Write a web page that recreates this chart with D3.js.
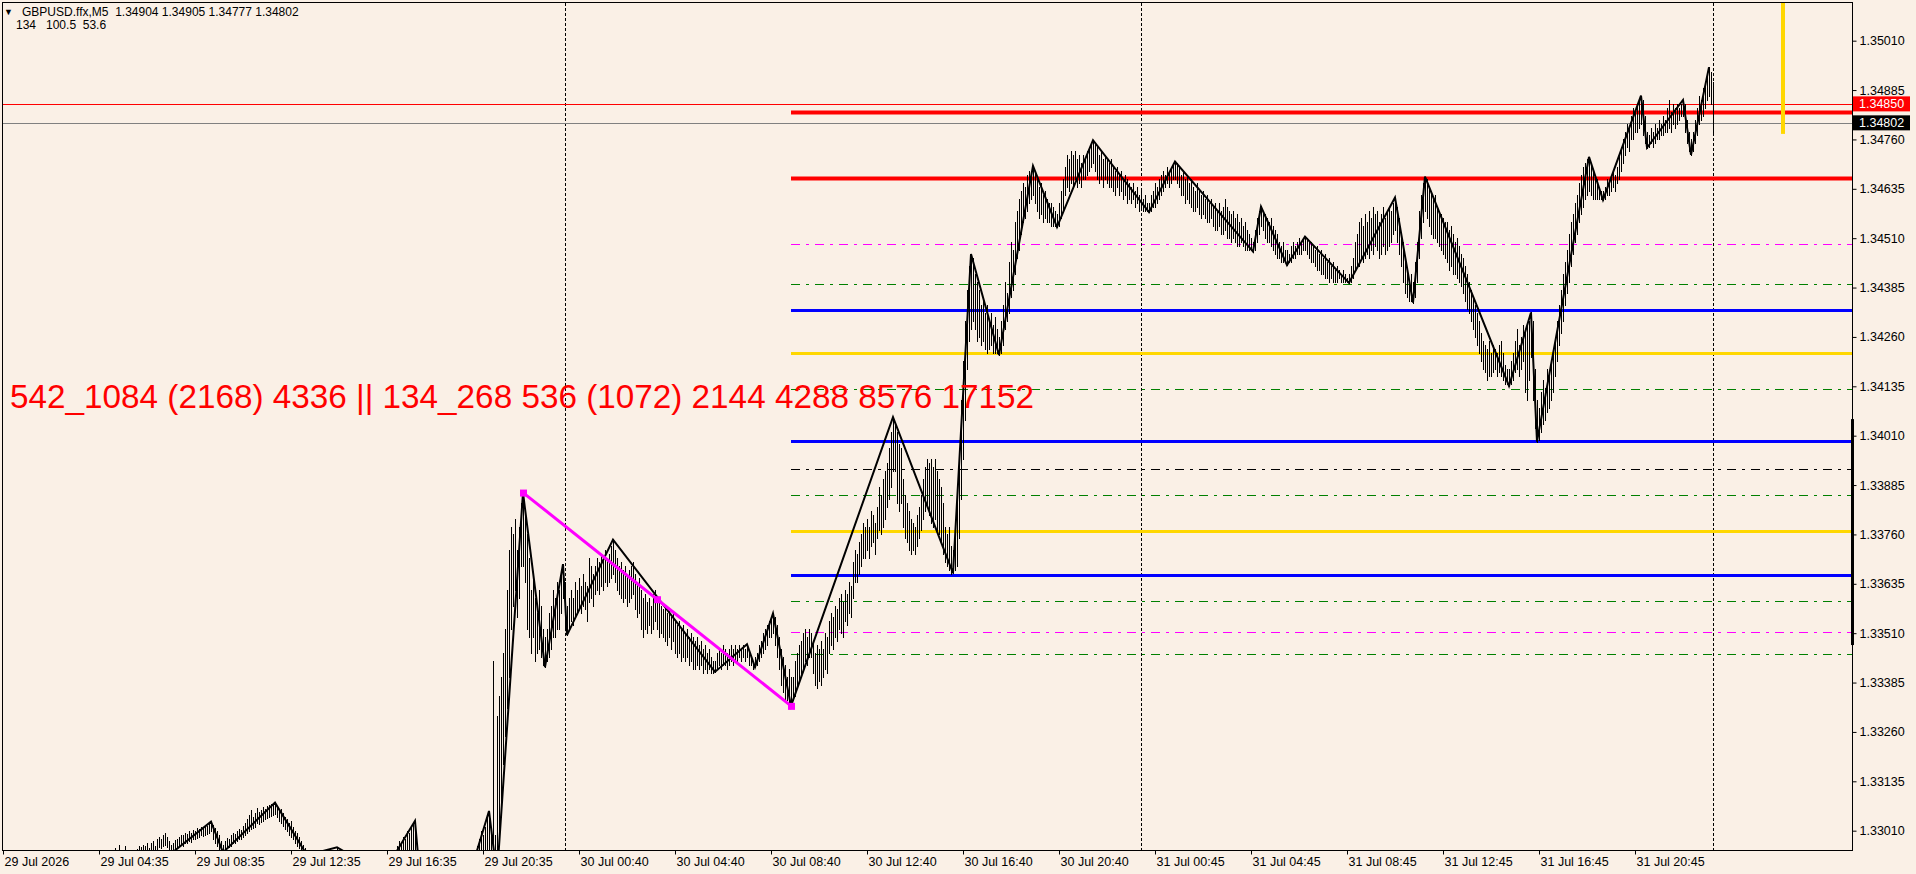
<!DOCTYPE html>
<html>
<head>
<meta charset="utf-8">
<script src="https://cdn.jsdelivr.net/npm/d3@7"></script>
<style>
  html, body { margin: 0; padding: 0; background: #FAF0E6; overflow: hidden; }
  svg { display: block; }
</style>
</head>
<body>
<svg id="chart"></svg>
<script>
// ---- data (GBPUSD M5) ----
const symbolLine = 'GBPUSD.ffx,M5  1.34904 1.34905 1.34777 1.34802';
const indicatorLine = '134   100.5  53.6';
const bigLabel = '542_1084 (2168) 4336 || 134_268 536 (1072) 2144 4288 8576 17152';

const timeLabels = ['29 Jul 2026', '29 Jul 04:35', '29 Jul 08:35', '29 Jul 12:35', '29 Jul 16:35', '29 Jul 20:35',
  '30 Jul 00:40', '30 Jul 04:40', '30 Jul 08:40', '30 Jul 12:40', '30 Jul 16:40', '30 Jul 20:40',
  '31 Jul 00:45', '31 Jul 04:45', '31 Jul 08:45', '31 Jul 12:45', '31 Jul 16:45', '31 Jul 20:45'];
const timeTickIdx = timeLabels.map((_, k) => k * 48);

const priceTicks = [1.33010, 1.33135, 1.33260, 1.33385, 1.33510, 1.33635, 1.33760, 1.33885, 1.34010,
  1.34135, 1.34260, 1.34385, 1.34510, 1.34635, 1.34760, 1.34885, 1.35010];

// bar segments (bar index start, highs, lows)
const startA = 56;
const highsA = [
  1.32966, 1.32958, 1.32974, 1.32955, 1.32960, 1.32970, 1.32958, 1.32955, 1.32950, 1.32957,
  1.32960, 1.32963, 1.32972, 1.32968, 1.32975, 1.32970, 1.32978, 1.32966, 1.32980, 1.32984,
  1.32972, 1.32988, 1.32995, 1.32990, 1.33000, 1.33005, 1.32994, 1.32985, 1.32975, 1.32980,
  1.32986, 1.32990, 1.32995, 1.33000, 1.32998, 1.33005, 1.33002, 1.33008, 1.33005, 1.33012,
  1.33010, 1.33016, 1.33014, 1.33020, 1.33018, 1.33024, 1.33022, 1.33028, 1.33033, 1.33025,
  1.33018, 1.33010, 1.33000, 1.32985, 1.32975, 1.32985, 1.32992, 1.32990, 1.32998, 1.33005,
  1.33002, 1.33010, 1.33015, 1.33012, 1.33022, 1.33030, 1.33040, 1.33050, 1.33062, 1.33045,
  1.33055, 1.33068, 1.33058, 1.33062, 1.33070, 1.33066, 1.33072, 1.33075, 1.33078, 1.33080,
  1.33081, 1.33070, 1.33060, 1.33065, 1.33055, 1.33045, 1.33040, 1.33030, 1.33035, 1.33020,
  1.33010, 1.33005, 1.32995, 1.32985, 1.32975, 1.32965, 1.32960];
const lowsA = [
  1.32940, 1.32938, 1.32945, 1.32935, 1.32940, 1.32948, 1.32940, 1.32936, 1.32932, 1.32938,
  1.32942, 1.32944, 1.32950, 1.32948, 1.32952, 1.32950, 1.32955, 1.32948, 1.32958, 1.32960,
  1.32952, 1.32962, 1.32968, 1.32965, 1.32972, 1.32975, 1.32968, 1.32960, 1.32952, 1.32955,
  1.32960, 1.32965, 1.32970, 1.32975, 1.32972, 1.32978, 1.32980, 1.32985, 1.32982, 1.32988,
  1.32990, 1.32992, 1.32995, 1.32998, 1.32996, 1.33000, 1.33002, 1.33005, 1.33008, 1.32990,
  1.32980, 1.32970, 1.32962, 1.32958, 1.32955, 1.32960, 1.32965, 1.32968, 1.32972, 1.32978,
  1.32980, 1.32985, 1.32988, 1.32990, 1.32995, 1.33000, 1.33005, 1.33010, 1.33015, 1.33018,
  1.33020, 1.33030, 1.33028, 1.33032, 1.33035, 1.33040, 1.33042, 1.33045, 1.33048, 1.33050,
  1.33052, 1.33045, 1.33035, 1.33030, 1.33022, 1.33015, 1.33008, 1.33000, 1.32995, 1.32988,
  1.32980, 1.32972, 1.32965, 1.32958, 1.32952, 1.32950, 1.32948];

const startB = 164;
const highsB = [1.32950, 1.32958, 1.32962, 1.32968, 1.32955, 1.32945];
const lowsB = [1.32925, 1.32930, 1.32935, 1.32940, 1.32930, 1.32920];

const startC = 194;
const highsC = [1.32920, 1.32940, 1.32960, 1.32972, 1.32985, 1.32980, 1.32995, 1.32990, 1.33010, 1.33005,
  1.33020, 1.33028, 1.33035, 1.32950, 1.32850];
const lowsC = [1.32850, 1.32870, 1.32880, 1.32895, 1.32905, 1.32915, 1.32920, 1.32925, 1.32935, 1.32945,
  1.32950, 1.32960, 1.32900, 1.32750, 1.32640];

const startD = 236;
const highsD = [
  1.3294, 1.3297, 1.3299, 1.3301, 1.3300, 1.3302, 1.3305, 1.3306, 1.3302, 1.3344,
  1.3300, 1.3330, 1.3335, 1.3340, 1.3346, 1.3352, 1.3362, 1.3372, 1.3378, 1.3376,
  1.3380, 1.3372, 1.3378, 1.3384, 1.33866, 1.3382, 1.3376, 1.3370, 1.3362, 1.3366,
  1.3360, 1.3356, 1.3362, 1.3358, 1.3352, 1.3350, 1.3352, 1.3356, 1.3358, 1.3362,
  1.3360, 1.3364, 1.3362, 1.3366, 1.33685, 1.3364, 1.3358, 1.3360, 1.3362, 1.3360,
  1.3364, 1.3362, 1.3365, 1.3363, 1.3366, 1.3364, 1.3363, 1.3370, 1.3368, 1.3366,
  1.3368, 1.3370, 1.3369, 1.3371, 1.3370, 1.3372, 1.3370, 1.3371, 1.3373, 1.33747,
  1.3372, 1.3370, 1.3368, 1.3369, 1.3367, 1.3368, 1.3366, 1.3367, 1.3368, 1.3369,
  1.3366, 1.3364, 1.3365, 1.3362, 1.3360, 1.3361, 1.3359, 1.3360, 1.3358, 1.3361,
  1.3362, 1.3360, 1.3359, 1.3358, 1.3357, 1.3358, 1.3356, 1.3357, 1.3355, 1.3356,
  1.3354, 1.3353, 1.3354, 1.3352, 1.3353, 1.3351, 1.3352, 1.3350, 1.3351, 1.3350,
  1.3349, 1.3350, 1.3348, 1.3349, 1.3347, 1.3348, 1.3346, 1.3347, 1.3345, 1.3344,
  1.3344, 1.3346, 1.3347, 1.3346, 1.3348, 1.3347, 1.3346, 1.3347, 1.3348, 1.3347,
  1.3348, 1.3347, 1.3348, 1.3347, 1.3348, 1.3347, 1.33482, 1.3346, 1.3345, 1.3344,
  1.3345, 1.3346, 1.3348, 1.3349, 1.3351, 1.3352, 1.3353, 1.3354, 1.3355, 1.33560,
  1.3355, 1.3353, 1.3350, 1.3347, 1.3345, 1.3343, 1.3340, 1.3342, 1.3340, 1.3340,
  1.3344, 1.3346, 1.3348, 1.3349, 1.3351, 1.3352, 1.3350, 1.3352, 1.3351, 1.3349,
  1.3346, 1.3348, 1.3347, 1.3349, 1.3347, 1.3351, 1.3350, 1.3354, 1.3356, 1.3355,
  1.3358, 1.3357, 1.3360, 1.3361, 1.3359, 1.3362, 1.3361, 1.3364, 1.3363, 1.3369,
  1.3372, 1.3371, 1.3374, 1.3376, 1.3379, 1.3378, 1.3380, 1.3378, 1.3382, 1.3381,
  1.3379, 1.3383, 1.3388, 1.3386, 1.3390, 1.3392, 1.3394, 1.3398, 1.3402, 1.34057,
  1.3404, 1.3402, 1.3399, 1.3398, 1.3390, 1.3386, 1.3384, 1.3382, 1.3380, 1.3379,
  1.3378, 1.3381, 1.3383, 1.3386, 1.3390, 1.3393, 1.3395, 1.3394, 1.3395, 1.3393,
  1.3395, 1.3392, 1.3390, 1.3388, 1.3384, 1.3378, 1.3376, 1.3378, 1.3373, 1.3372,
  1.3378, 1.3385, 1.3395, 1.3410, 1.3420, 1.3430, 1.3438, 1.3444, 1.34470, 1.3446,
  1.3442, 1.3440, 1.3438, 1.3434, 1.3436, 1.3432, 1.3434, 1.3430, 1.3432, 1.3429,
  1.3431, 1.3428, 1.3426, 1.3430, 1.3434, 1.3440, 1.3437, 1.3445, 1.3450, 1.3448,
  1.3455, 1.3458, 1.3461, 1.3463, 1.3465, 1.3464, 1.3467, 1.3468, 1.3468, 1.34693,
  1.3468, 1.3466, 1.3464, 1.3465, 1.3462, 1.3463, 1.3461, 1.3460, 1.3460, 1.3459,
  1.3458, 1.3457, 1.3460, 1.3463, 1.3466, 1.3469, 1.3472, 1.3471, 1.3473, 1.3472,
  1.3473, 1.3471, 1.3472, 1.3470, 1.3472, 1.3471, 1.3473, 1.3474, 1.3475, 1.34758,
  1.3475, 1.3474, 1.3472, 1.3473, 1.3471, 1.3472, 1.3471, 1.3470, 1.3471, 1.3469,
  1.3468, 1.3469, 1.3467, 1.3468, 1.3466, 1.3467, 1.3466, 1.3465, 1.3464, 1.3465,
  1.3463, 1.3464, 1.3462, 1.3463, 1.3461, 1.3462, 1.3460, 1.3460, 1.3462, 1.3463,
  1.3465, 1.3464, 1.3466, 1.3467, 1.3468, 1.3467, 1.3469, 1.3468, 1.3469, 1.3470,
  1.34704, 1.3470, 1.3469, 1.3467, 1.3468, 1.3466, 1.3467, 1.3465, 1.3466, 1.3464,
  1.3463, 1.3465, 1.3463, 1.3462, 1.3463, 1.3461, 1.3462, 1.3460, 1.3461, 1.3459,
  1.3460, 1.3458, 1.3460, 1.3458, 1.3459, 1.3461, 1.3459, 1.3458, 1.3457, 1.3458,
  1.3456, 1.3457, 1.3455, 1.3456, 1.3454, 1.3455, 1.3453, 1.3452, 1.3451, 1.3450,
  1.3453, 1.3456, 1.3458, 1.34590, 1.3458, 1.3457, 1.3456, 1.3455, 1.3456, 1.3454,
  1.3453, 1.3452, 1.3450, 1.3449, 1.3450, 1.3448, 1.3448, 1.3447, 1.3449, 1.3450,
  1.3449, 1.3450, 1.3451, 1.3450, 1.3451, 1.34514, 1.3451, 1.3450, 1.3450, 1.3449,
  1.3448, 1.3449, 1.3447, 1.3448, 1.3446, 1.3447, 1.3445, 1.3446, 1.3444, 1.3445,
  1.3443, 1.3444, 1.3443, 1.3442, 1.3443, 1.3442, 1.3441, 1.3442, 1.3444, 1.3446,
  1.3450, 1.3452, 1.3455, 1.3456, 1.3454, 1.3457, 1.3455, 1.3458, 1.3456, 1.3459,
  1.3457, 1.3458, 1.3455, 1.3457, 1.3459, 1.3456, 1.3458, 1.3459, 1.3458, 1.3460,
  1.34613, 1.3459, 1.3456, 1.3452, 1.3450, 1.3446, 1.3443, 1.3440, 1.3442, 1.3440,
  1.3445, 1.3450, 1.3458, 1.3462, 1.3465, 1.34666, 1.3466, 1.3464, 1.3463, 1.3461,
  1.3462, 1.3459, 1.3458, 1.3457, 1.3456, 1.3455, 1.3455, 1.3453, 1.3454, 1.3452,
  1.3450, 1.3451, 1.3449, 1.3447, 1.3446, 1.3444, 1.3442, 1.3440, 1.3438, 1.3436,
  1.3434, 1.3432, 1.3430, 1.3427, 1.3425, 1.3424, 1.3423, 1.3425, 1.3422, 1.3424,
  1.3423, 1.3422, 1.3424, 1.3425, 1.3422, 1.3419, 1.3418, 1.3418, 1.3420, 1.3422,
  1.3425, 1.3428, 1.3424, 1.3426, 1.3429, 1.3427, 1.3429, 1.3430, 1.34322, 1.3430,
  1.3418, 1.3410, 1.3408, 1.3412, 1.3415, 1.3413, 1.3418, 1.3416, 1.3420, 1.3422,
  1.3426, 1.3430, 1.3434, 1.3438, 1.3442, 1.3445, 1.3448, 1.3452, 1.3455, 1.3457,
  1.3460, 1.3462, 1.3465, 1.3467, 1.3469, 1.3470, 1.3471, 1.34716, 1.3470, 1.3468,
  1.3467, 1.3466, 1.3464, 1.3463, 1.3463, 1.3464, 1.3466, 1.3465, 1.3467, 1.3468,
  1.3467, 1.3469, 1.3472, 1.3474, 1.3476, 1.3478, 1.3480, 1.3479, 1.3482, 1.3484,
  1.3483, 1.3485, 1.3486, 1.34871, 1.3486, 1.3482, 1.3478, 1.3477, 1.3479, 1.3478,
  1.3480, 1.3479, 1.3481, 1.3480, 1.3482, 1.3481, 1.3484, 1.3486, 1.3483, 1.3485,
  1.3484, 1.3485, 1.3484, 1.3485, 1.34860, 1.3485, 1.3481, 1.3478, 1.3476, 1.3478,
  1.3481, 1.3484, 1.3487, 1.3486, 1.3489, 1.3490, 1.3492, 1.34943, 1.3493, 1.34905];
const lowsD = [
  1.3285, 1.3288, 1.3289, 1.3291, 1.3292, 1.3293, 1.3295, 1.3296, 1.3292, 1.3290,
  1.3291, 1.32895, 1.3298, 1.3305, 1.3318, 1.3325, 1.3332, 1.3340, 1.3352, 1.3358,
  1.3362, 1.3355, 1.3360, 1.3368, 1.3368, 1.3364, 1.3352, 1.3350, 1.3346, 1.3350,
  1.3344, 1.3346, 1.3347, 1.3345, 1.3343, 1.33424, 1.3344, 1.3345, 1.3347, 1.3350,
  1.3350, 1.3352, 1.3352, 1.3356, 1.3360, 1.3352, 1.33505, 1.3352, 1.3354, 1.3353,
  1.3355, 1.3356, 1.3357, 1.3356, 1.3358, 1.3357, 1.3354, 1.3359, 1.3360, 1.3358,
  1.3361, 1.3362, 1.3361, 1.3363, 1.3362, 1.3364, 1.3363, 1.3364, 1.3365, 1.3366,
  1.3364, 1.3362, 1.3361, 1.3360, 1.3359, 1.3360, 1.3358, 1.3359, 1.3360, 1.3361,
  1.3357, 1.3355, 1.3356, 1.3352, 1.3350, 1.3352, 1.3351, 1.3353, 1.3351, 1.3352,
  1.3354, 1.3352, 1.3350, 1.3351, 1.3350, 1.3349, 1.3348, 1.3350, 1.3347, 1.3349,
  1.3346, 1.3345, 1.3346, 1.3344, 1.3345, 1.3344, 1.3345, 1.3343, 1.3344, 1.3342,
  1.3342, 1.3343, 1.3342, 1.3343, 1.3341, 1.3342, 1.3341, 1.3342, 1.3341, 1.3341,
  1.33412, 1.3342, 1.3343, 1.3342, 1.3343, 1.3343, 1.3342, 1.3343, 1.3344, 1.3343,
  1.3344, 1.3344, 1.3345, 1.3344, 1.3345, 1.3344, 1.3345, 1.3343, 1.3343, 1.3342,
  1.33424, 1.3343, 1.3344, 1.3345, 1.3346, 1.3347, 1.3348, 1.3350, 1.3350, 1.3351,
  1.3348, 1.3345, 1.3342, 1.3338, 1.3336, 1.3334, 1.3334, 1.3333, 1.33326, 1.3334,
  1.3335, 1.3338, 1.3339, 1.3341, 1.3342, 1.3344, 1.3343, 1.3345, 1.3345, 1.3341,
  1.3338, 1.3337, 1.3339, 1.3338, 1.3340, 1.3342, 1.3341, 1.3346, 1.3348, 1.3347,
  1.3350, 1.3349, 1.3352, 1.3351, 1.3350, 1.3354, 1.3353, 1.3356, 1.3355, 1.3360,
  1.3364, 1.3364, 1.3366, 1.3368, 1.3370, 1.3370, 1.3372, 1.3370, 1.3373, 1.3374,
  1.3371, 1.3375, 1.3377, 1.3376, 1.3378, 1.3380, 1.3383, 1.3385, 1.3388, 1.3392,
  1.3392, 1.3384, 1.3382, 1.3384, 1.3378, 1.3375, 1.3374, 1.3372, 1.3371, 1.3372,
  1.3371, 1.3373, 1.3375, 1.3377, 1.3380, 1.3382, 1.3383, 1.3381, 1.3379, 1.3378,
  1.3380, 1.3377, 1.3376, 1.3374, 1.3371, 1.3369, 1.3368, 1.3367, 1.3366, 1.33662,
  1.3367, 1.3368, 1.3375, 1.3385, 1.3395, 1.3405, 1.3418, 1.3425, 1.3428, 1.3430,
  1.3428, 1.3425, 1.3426, 1.3424, 1.3425, 1.3423, 1.3422, 1.3423, 1.3424, 1.3422,
  1.3422, 1.3422, 1.34214, 1.3422, 1.3424, 1.3428, 1.3430, 1.3432, 1.3436, 1.3438,
  1.3442, 1.3446, 1.3448, 1.3452, 1.3455, 1.3456, 1.3458, 1.3460, 1.3461, 1.3462,
  1.3460, 1.3458, 1.3456, 1.3457, 1.3455, 1.3456, 1.3455, 1.3455, 1.3454, 1.3454,
  1.3454, 1.34538, 1.3454, 1.3456, 1.3458, 1.3462, 1.3464, 1.3463, 1.3465, 1.3464,
  1.3466, 1.3464, 1.3465, 1.3464, 1.3466, 1.3466, 1.3467, 1.3468, 1.3469, 1.3470,
  1.3468, 1.3466, 1.3465, 1.3466, 1.3464, 1.3466, 1.3465, 1.3464, 1.3464, 1.3463,
  1.3462, 1.3464, 1.3462, 1.3463, 1.3461, 1.3462, 1.3460, 1.3461, 1.3460, 1.3461,
  1.3459, 1.3460, 1.3458, 1.3459, 1.3458, 1.3458, 1.3458, 1.34576, 1.3458, 1.3459,
  1.3459, 1.3460, 1.3461, 1.3462, 1.3463, 1.3464, 1.3465, 1.3464, 1.3465, 1.3466,
  1.3466, 1.3465, 1.3464, 1.3462, 1.3462, 1.3460, 1.3461, 1.3460, 1.3459, 1.3458,
  1.3458, 1.3459, 1.3457, 1.3456, 1.3457, 1.3456, 1.3455, 1.3455, 1.3456, 1.3454,
  1.3453, 1.3453, 1.3454, 1.3452, 1.3452, 1.3453, 1.3451, 1.3451, 1.3450, 1.3451,
  1.3450, 1.3449, 1.3449, 1.3450, 1.3449, 1.3448, 1.3448, 1.3448, 1.3448, 1.34476,
  1.3448, 1.3450, 1.3452, 1.3454, 1.3453, 1.3451, 1.3450, 1.3450, 1.3449, 1.3448,
  1.3447, 1.3446, 1.3446, 1.3445, 1.3445, 1.3445, 1.34442, 1.3445, 1.3445, 1.3446,
  1.3446, 1.3447, 1.3447, 1.3447, 1.3448, 1.3448, 1.3447, 1.3446, 1.3445, 1.3445,
  1.3444, 1.3443, 1.3443, 1.3442, 1.3442, 1.3441, 1.3441, 1.3440, 1.3441, 1.3440,
  1.3440, 1.3440, 1.3441, 1.3440, 1.3440, 1.3440, 1.3440, 1.34397, 1.3440, 1.3441,
  1.3443, 1.3444, 1.3444, 1.3446, 1.3445, 1.3446, 1.3447, 1.3446, 1.3448, 1.3447,
  1.3449, 1.3448, 1.3446, 1.3447, 1.3449, 1.3447, 1.3448, 1.3449, 1.3450, 1.3452,
  1.3453, 1.3450, 1.3447, 1.3444, 1.3440, 1.3437, 1.3436, 1.3435, 1.3435, 1.34347,
  1.3436, 1.3440, 1.3446, 1.3451, 1.3455, 1.3458, 1.3456, 1.3454, 1.3452, 1.3451,
  1.3451, 1.3450, 1.3449, 1.3448, 1.3447, 1.3446, 1.3445, 1.3443, 1.3444, 1.3442,
  1.3442, 1.3441, 1.3440, 1.3439, 1.3437, 1.3435, 1.3433, 1.3432, 1.3430, 1.3428,
  1.3426, 1.3424, 1.3422, 1.3420, 1.3418, 1.3417, 1.3415, 1.3416, 1.3416, 1.3417,
  1.3418, 1.3416, 1.3417, 1.3416, 1.3415, 1.3414, 1.3414, 1.34136, 1.3414, 1.3415,
  1.3417, 1.3418, 1.3416, 1.3418, 1.3420, 1.3412, 1.3410, 1.3415, 1.3421, 1.3410,
  1.3403, 1.33995, 1.3400, 1.3402, 1.3404, 1.3405, 1.3407, 1.3408, 1.3410, 1.3412,
  1.3416, 1.3420, 1.3424, 1.3427, 1.3430, 1.3434, 1.3437, 1.3440, 1.3444, 1.3447,
  1.3450, 1.3452, 1.3455, 1.3457, 1.3459, 1.3461, 1.3462, 1.3463, 1.3462, 1.3461,
  1.3461, 1.3461, 1.3461, 1.3461, 1.34607, 1.3461, 1.3462, 1.3462, 1.3463, 1.3464,
  1.3463, 1.3465, 1.3466, 1.3468, 1.3470, 1.3472, 1.3474, 1.3473, 1.3476, 1.3476,
  1.3478, 1.3478, 1.3479, 1.3480, 1.3477, 1.3475, 1.34739, 1.3474, 1.3475, 1.3474,
  1.3475, 1.3476, 1.3476, 1.3477, 1.3477, 1.3478, 1.3478, 1.3479, 1.3478, 1.3480,
  1.3479, 1.3480, 1.3481, 1.3482, 1.3482, 1.3478, 1.3475, 1.3473, 1.34721, 1.3473,
  1.3475, 1.3477, 1.3480, 1.3481, 1.3482, 1.3484, 1.3486, 1.3487, 1.3485, 1.34777];

// zigzag swing points (bar index, price)
const zzIdx = [84, 104, 110, 136, 152, 167, 190, 206, 214, 243, 247, 260, 271, 280, 282, 305, 356, 372, 376, 385,
  394, 445, 475, 484, 498, 515, 527, 545, 573, 586, 625, 629, 642, 651, 673, 696, 705, 711, 753, 764,
  767, 793, 800, 819, 822, 840, 844, 853];
const zzPrice = [1.32952, 1.33033, 1.32955, 1.33081, 1.32948, 1.32968, 1.32900, 1.33035, 1.32574, 1.33060,
  1.32895, 1.33866, 1.33424, 1.33685, 1.33505, 1.33747, 1.33412, 1.33482, 1.33424, 1.33560,
  1.33326, 1.34057, 1.33662, 1.34470, 1.34214, 1.34693, 1.34538, 1.34758, 1.34576, 1.34704,
  1.34476, 1.34590, 1.34442, 1.34514, 1.34397, 1.34613, 1.34347, 1.34666, 1.34136, 1.34322,
  1.33995, 1.34716, 1.34607, 1.34871, 1.34739, 1.34860, 1.34721, 1.34943];

// magenta trend line
const trendIdx = [260, 327, 394];
const trendPrice = [1.33866, 1.33596, 1.33326];

// horizontal levels drawn from the swing low to the right edge
const levelStartIdx = 394;
const levelPrices = [1.34830, 1.34663, 1.34495, 1.34393, 1.34329, 1.34219, 1.34128, 1.33996,
  1.33926, 1.33859, 1.33769, 1.33658, 1.33591, 1.33514, 1.33457];
const levelColors = ['#FF0000', '#FF0000', '#FF00FF', '#008000', '#0000FF', '#FFD700', '#008000', '#0000FF',
  '#000000', '#008000', '#FFD700', '#0000FF', '#008000', '#FF00FF', '#008000'];
const levelStyles = ['thick', 'thick', 'dashdot', 'dashdot', 'solid', 'solid', 'dashdot', 'solid',
  'dashdot', 'dashdot', 'solid', 'solid', 'dashdot', 'dashdot', 'dashdot'];

const daySeparatorIdx = [281, 569, 855];
const alertPrice = 1.34850;
const bidPrice = 1.34802;
const markerIdx = 890;
const markerLowPrice = 1.34774;
const rangeBarPrices = [1.33480, 1.34052];

// ---- drawing ----
const W = 1916, H = 874;
const plot = { left: 3, top: 3, right: 1852, bottom: 850 };
const FONT = '"Liberation Sans", Arial, sans-serif';

const svg = d3.select('#chart').attr('width', W).attr('height', H);
svg.append('rect').attr('width', W).attr('height', H).attr('fill', '#FAF0E6');

const x = d3.scaleLinear().domain([0, 924.5]).range([plot.left, plot.right]);
const y = d3.scaleLinear().domain([1.329611, 1.351054]).range([plot.bottom, plot.top]);

svg.append('clipPath').attr('id', 'plotClip')
  .append('rect')
  .attr('x', plot.left).attr('y', plot.top)
  .attr('width', plot.right - plot.left).attr('height', plot.bottom - plot.top);

const g = svg.append('g').attr('clip-path', 'url(#plotClip)');

// day separators
g.selectAll('.sep')
  .data(daySeparatorIdx)
  .enter().append('line')
  .attr('x1', d => Math.round(x(d)) + 0.5).attr('x2', d => Math.round(x(d)) + 0.5)
  .attr('y1', plot.top).attr('y2', plot.bottom)
  .attr('stroke', '#000').attr('stroke-width', 1)
  .attr('stroke-dasharray', '3,2');

// full width price lines
g.append('line')
  .attr('x1', plot.left).attr('x2', plot.right)
  .attr('y1', Math.round(y(alertPrice)) + 0.5).attr('y2', Math.round(y(alertPrice)) + 0.5)
  .attr('stroke', '#FF0000').attr('stroke-width', 1);
g.append('line')
  .attr('x1', plot.left).attr('x2', plot.right)
  .attr('y1', Math.round(y(bidPrice)) + 0.5).attr('y2', Math.round(y(bidPrice)) + 0.5)
  .attr('stroke', '#808080').attr('stroke-width', 1);

// levels
const levels = levelPrices.map((p, k) => ({ p, color: levelColors[k], style: levelStyles[k] }));
g.selectAll('.level')
  .data(levels)
  .enter().append('line')
  .attr('class', 'level')
  .attr('x1', x(levelStartIdx)).attr('x2', plot.right)
  .attr('y1', d => Math.round(y(d.p)) + 0.5).attr('y2', d => Math.round(y(d.p)) + 0.5)
  .attr('stroke', d => d.color)
  .attr('stroke-width', d => d.style === 'thick' ? 4 : d.style === 'solid' ? 3 : 1)
  .attr('stroke-dasharray', d => d.style === 'dashdot' ? '9,6,3,6' : null);

// bars
const bars = [];
[[startA, highsA, lowsA], [startB, highsB, lowsB], [startC, highsC, lowsC], [startD, highsD, lowsD]]
  .forEach(([s, hs, ls]) => hs.forEach((h, k) => bars.push({ i: s + k, h, l: ls[k] })));

g.selectAll('.bar')
  .data(bars)
  .enter().append('line')
  .attr('class', 'bar')
  .attr('x1', d => Math.round(x(d.i)) + 0.5).attr('x2', d => Math.round(x(d.i)) + 0.5)
  .attr('y1', d => y(d.h)).attr('y2', d => y(d.l) + 1)
  .attr('stroke', '#000').attr('stroke-width', 1)
  .attr('shape-rendering', 'crispEdges');

// zigzag
const zz = zzIdx.map((i, k) => ({ i, p: zzPrice[k] }));
const line = d3.line().x(d => x(d.i)).y(d => y(d.p));
g.append('path')
  .datum(zz)
  .attr('fill', 'none')
  .attr('stroke', '#000')
  .attr('stroke-width', 2)
  .attr('d', line);

// magenta trend line with square handles
const trend = trendIdx.map((i, k) => ({ i, p: trendPrice[k] }));
g.append('path')
  .datum(trend)
  .attr('fill', 'none')
  .attr('stroke', '#FF00FF')
  .attr('stroke-width', 3)
  .attr('d', line);
g.selectAll('.handle')
  .data(trend)
  .enter().append('rect')
  .attr('x', d => x(d.i) - 3).attr('y', d => y(d.p) - 3)
  .attr('width', 7).attr('height', 7)
  .attr('fill', '#FF00FF');

// yellow vertical marker
g.append('line')
  .attr('x1', x(markerIdx)).attr('x2', x(markerIdx))
  .attr('y1', plot.top).attr('y2', y(markerLowPrice))
  .attr('stroke', '#FFD700').attr('stroke-width', 4);

// big red text
g.append('text')
  .attr('x', 10).attr('y', 408)
  .attr('font-family', FONT)
  .attr('font-size', 34)
  .attr('fill', '#FF0000')
  .attr('textLength', 1024)
  .attr('lengthAdjust', 'spacingAndGlyphs')
  .text(bigLabel);

// frame
svg.append('rect')
  .attr('x', plot.left - 0.5).attr('y', plot.top - 0.5)
  .attr('width', plot.right - plot.left + 1).attr('height', plot.bottom - plot.top + 1)
  .attr('fill', 'none').attr('stroke', '#000').attr('stroke-width', 1);

// price axis
const yAxis = d3.axisRight(y)
  .tickValues(priceTicks)
  .tickFormat(d3.format('.5f'))
  .tickSize(4)
  .tickPadding(3);
const ya = svg.append('g')
  .attr('transform', `translate(${plot.right + 0.5},0)`)
  .call(yAxis);
ya.select('.domain').remove();
ya.selectAll('text').attr('font-family', FONT).attr('font-size', 12.5).attr('fill', '#000');
ya.selectAll('line').attr('stroke', '#000');

// range bar on price axis
svg.append('rect')
  .attr('x', plot.right - 1).attr('width', 3)
  .attr('y', y(rangeBarPrices[1])).attr('height', y(rangeBarPrices[0]) - y(rangeBarPrices[1]))
  .attr('fill', '#000');

// price tags
[[alertPrice, '#FF0000'], [bidPrice, '#000000']].forEach(([p, c]) => {
  const cy = y(p);
  svg.append('rect')
    .attr('x', plot.right + 1).attr('y', cy - 7.5)
    .attr('width', 57).attr('height', 15)
    .attr('fill', c);
  svg.append('text')
    .attr('x', plot.right + 7).attr('y', cy + 4.5)
    .attr('font-family', FONT).attr('font-size', 12.5)
    .attr('fill', '#fff')
    .text(d3.format('.5f')(p));
});

// time axis
const xAxis = d3.axisBottom(x)
  .tickValues(timeTickIdx)
  .tickFormat((d, k) => timeLabels[k])
  .tickSize(4)
  .tickPadding(3);
const xa = svg.append('g')
  .attr('transform', `translate(0,${plot.bottom + 0.5})`)
  .call(xAxis);
xa.select('.domain').remove();
xa.selectAll('.tick').attr('transform', d => `translate(${Math.round(x(d)) + 0.5},0)`);
xa.selectAll('text')
  .attr('font-family', FONT).attr('font-size', 12.5).attr('fill', '#000')
  .attr('text-anchor', 'start').attr('x', 1);
xa.selectAll('line').attr('stroke', '#000');

// header
svg.append('text')
  .attr('x', 4).attr('y', 15)
  .attr('font-family', FONT).attr('font-size', 9).attr('fill', '#000')
  .text('\u25BC');
svg.append('text')
  .attr('x', 22).attr('y', 16)
  .attr('font-family', FONT).attr('font-size', 12)
  .attr('fill', '#000')
  .style('white-space', 'pre')
  .text(symbolLine);
svg.append('text')
  .attr('x', 16).attr('y', 29)
  .attr('font-family', FONT).attr('font-size', 12)
  .attr('fill', '#000')
  .style('white-space', 'pre')
  .text(indicatorLine);
</script>
</body>
</html>
